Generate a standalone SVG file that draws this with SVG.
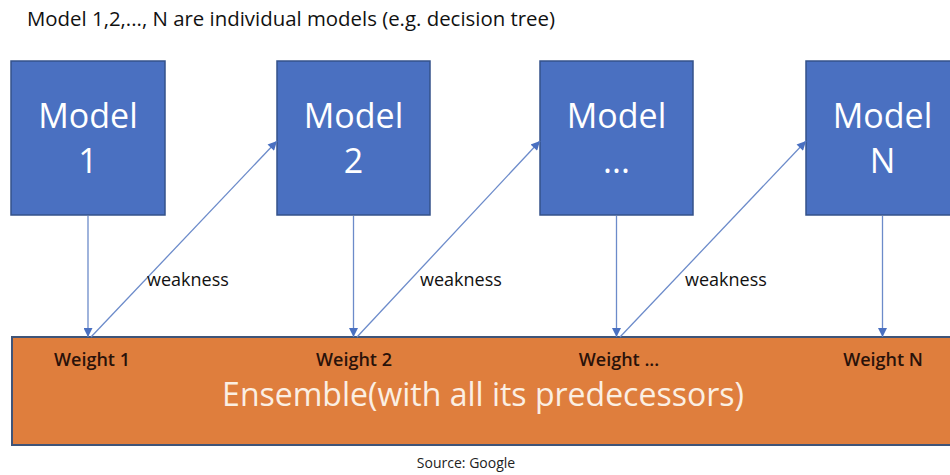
<svg xmlns="http://www.w3.org/2000/svg" width="950" height="475" viewBox="0 0 950 475">
  <style>
    .box { fill: #4A70C1; stroke: #34528A; stroke-width: 1.5; }
    .box-text { font-family: "Open Sans", "Liberation Sans", sans-serif; font-size: 34px; fill: #FFFFFF; text-anchor: middle; }
    .bar { fill: #DF7E3D; stroke: #3F5478; stroke-width: 2; }
    .weight { font-family: "Open Sans", "Liberation Sans", sans-serif; font-size: 18px; font-weight: 600; fill: #2A120A; text-anchor: middle; }
    .ensemble { font-family: "Open Sans", "Liberation Sans", sans-serif; font-size: 32px; fill: #FBEFE3; text-anchor: middle; }
    .label { font-family: "Open Sans", "Liberation Sans", sans-serif; font-size: 18px; fill: #111111; }
    .title { font-family: "Open Sans", "Liberation Sans", sans-serif; font-size: 20.4px; fill: #111111; }
    .source { font-family: "Open Sans", "Liberation Sans", sans-serif; font-size: 14px; fill: #222222; text-anchor: middle; }
    .arrow { stroke: #6C8BCA; stroke-width: 1.3; fill: none; marker-end: url(#head); }
  </style>
  <defs>
    <marker id="head" viewBox="0 0 10 10" refX="10" refY="5" markerWidth="11" markerHeight="9" markerUnits="userSpaceOnUse" orient="auto">
      <path d="M0,0 L10,5 L0,10 Z" fill="#4A70C1"/>
    </marker>
  </defs>

  <rect width="950" height="475" fill="#FFFFFF"/>

  <text class="title" x="27" y="26">Model 1,2,..., N are individual models (e.g. decision tree)</text>

  <!-- ensemble bar -->
  <g id="ensemble">
    <rect class="bar" x="12" y="337" width="950" height="108"/>
    <text class="weight" x="92" y="366">Weight 1</text>
    <text class="weight" x="354" y="366">Weight 2</text>
    <text class="weight" x="619" y="366">Weight ...</text>
    <text class="weight" x="883" y="366">Weight N</text>
    <text class="ensemble" x="483" y="406">Ensemble(with all its predecessors)</text>
  </g>

  <!-- model boxes -->
  <g id="model-1">
    <rect class="box" x="11" y="61" width="154" height="154"/>
    <text class="box-text" x="88" y="128">Model</text>
    <text class="box-text" x="88" y="173">1</text>
  </g>
  <g id="model-2">
    <rect class="box" x="277" y="61" width="153" height="154"/>
    <text class="box-text" x="353.5" y="128">Model</text>
    <text class="box-text" x="353.5" y="173">2</text>
  </g>
  <g id="model-dots">
    <rect class="box" x="540" y="61" width="153" height="154"/>
    <text class="box-text" x="616.5" y="128">Model</text>
    <text class="box-text" x="616.5" y="173">...</text>
  </g>
  <g id="model-n">
    <rect class="box" x="806" y="61" width="153" height="154"/>
    <text class="box-text" x="882.5" y="128">Model</text>
    <text class="box-text" x="882.5" y="173">N</text>
  </g>

  <!-- connectors -->
  <g id="connectors">
    <line class="arrow" x1="88" y1="216" x2="88" y2="337"/>
    <line class="arrow" x1="353.5" y1="216" x2="353.5" y2="337"/>
    <line class="arrow" x1="616.5" y1="216" x2="616.5" y2="337"/>
    <line class="arrow" x1="882.5" y1="216" x2="882.5" y2="337"/>
    <line class="arrow" x1="91" y1="337" x2="277" y2="141"/>
    <line class="arrow" x1="357" y1="337" x2="540" y2="141"/>
    <line class="arrow" x1="620" y1="337" x2="806" y2="141"/>
    <text class="label" x="147" y="286">weakness</text>
    <text class="label" x="420" y="286">weakness</text>
    <text class="label" x="685" y="286">weakness</text>
  </g>

  <text class="source" x="466" y="468">Source: Google</text>
</svg>
